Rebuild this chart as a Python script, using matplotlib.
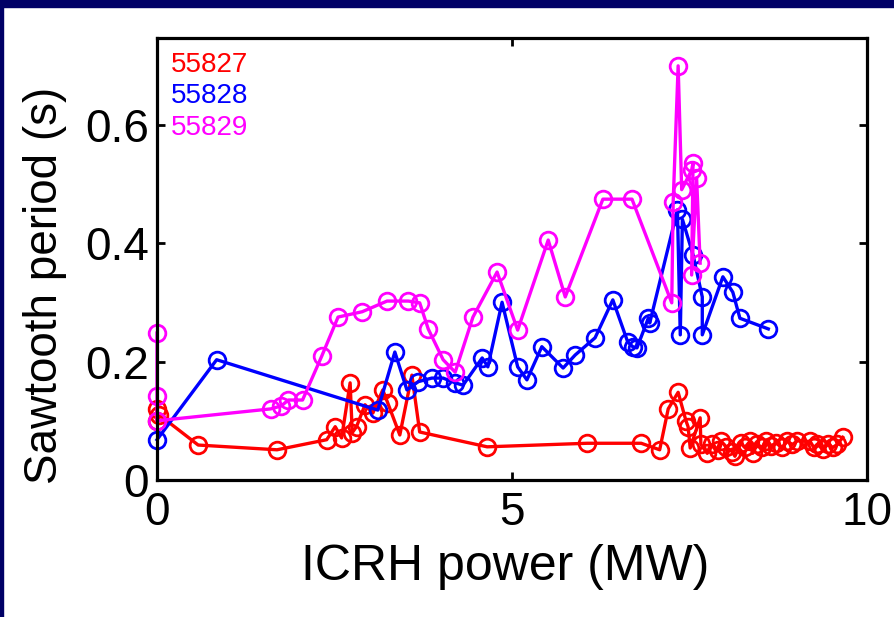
import matplotlib
matplotlib.use("Agg")
import matplotlib.pyplot as plt
from matplotlib.patches import Rectangle

plt.rcParams['font.family'] = ['Liberation Sans', 'DejaVu Sans']

# shot 55827 (red)
p27 = [0, 0, 0.03, 0.58, 1.69, 2.39, 2.51, 2.60, 2.72, 2.75, 2.81, 2.93, 3.04, 3.18,
       3.25, 3.42, 3.59, 3.70, 4.65, 6.06, 6.82, 7.08, 7.20, 7.34, 7.45, 7.48, 7.51,
       7.65, 7.66, 7.75, 7.82, 7.90, 7.95, 8.02, 8.10, 8.14, 8.22, 8.28, 8.35, 8.39,
       8.45, 8.52, 8.58, 8.65, 8.72, 8.80, 8.88, 8.95, 9.02, 9.20, 9.25, 9.30, 9.38,
       9.45, 9.52, 9.58, 9.66]
t27 = [0.12, 0.10, 0.11, 0.059, 0.051, 0.068, 0.090, 0.071, 0.164, 0.080, 0.090, 0.127,
       0.113, 0.152, 0.130, 0.076, 0.177, 0.081, 0.056, 0.062, 0.062, 0.051, 0.120,
       0.148, 0.100, 0.090, 0.054, 0.105, 0.060, 0.045, 0.060, 0.050, 0.065, 0.055,
       0.048, 0.040, 0.062, 0.055, 0.065, 0.045, 0.060, 0.055, 0.066, 0.058,
       0.062, 0.055, 0.065, 0.060, 0.066, 0.065, 0.055, 0.060, 0.052, 0.060, 0.055,
       0.060, 0.072]

# shot 55828 (blue)
p28 = [0, 0.84, 3.11, 3.35, 3.52, 3.68, 3.87, 4.03, 4.20, 4.31, 4.58, 4.66, 4.86,
       5.08, 5.21, 5.42, 5.72, 5.89, 6.17, 6.42, 6.63, 6.70, 6.76, 6.92, 6.94, 7.33,
       7.37, 7.40, 7.55, 7.68, 7.68, 7.97, 8.11, 8.21, 8.61]
t28 = [0.068, 0.203, 0.118, 0.216, 0.152, 0.166, 0.172, 0.172, 0.164, 0.160, 0.206,
       0.191, 0.300, 0.191, 0.169, 0.225, 0.189, 0.211, 0.240, 0.304, 0.233, 0.225,
       0.223, 0.273, 0.265, 0.456, 0.245, 0.440, 0.380, 0.309, 0.245, 0.343, 0.317,
       0.273, 0.255]

# shot 55829 (magenta)
p29 = [0, 0, 0, 1.60, 1.75, 1.85, 2.05, 2.32, 2.55, 2.89, 3.24, 3.54, 3.70, 3.82,
       4.03, 4.20, 4.45, 4.79, 5.08, 5.51, 5.75, 6.28, 6.69, 7.25, 7.27, 7.34, 7.39,
       7.53, 7.55, 7.53, 7.60, 7.65]
t29 = [0.248, 0.142, 0.100, 0.120, 0.125, 0.135, 0.135, 0.209, 0.275, 0.284, 0.302,
       0.302, 0.299, 0.255, 0.203, 0.182, 0.275, 0.351, 0.253, 0.405, 0.309, 0.474,
       0.474, 0.299, 0.469, 0.699, 0.490, 0.523, 0.535, 0.346, 0.510, 0.366]

shots = ['55827', '55828', '55829']
colors = ['#ff0000', '#0000ff', '#ff00ff']

fig = plt.figure(figsize=(8.95, 6.17), dpi=100)
fig.patches.append(Rectangle((0, 1 - 7 / 617), 1, 7 / 617, transform=fig.transFigure,
                             color='#000066', zorder=0))
fig.patches.append(Rectangle((0, 0), 3 / 895, 1, transform=fig.transFigure,
                             color='#000066', zorder=0))

ax = fig.add_axes([157 / 895, 137 / 617, 710 / 895, 442 / 617])
for (p, t), c in zip([(p27, t27), (p28, t28), (p29, t29)], colors):
    ax.plot(p, t, '-o', color=c, lw=2.4, ms=12, mfc='none', mew=2, clip_on=False)

ax.set_xlim(0, 10)
ax.set_ylim(0, 0.746)
ax.set_xticks([0, 5, 10])
ax.set_yticks([0, 0.2, 0.4, 0.6])
ax.set_xticklabels(['0', '5', '10'])
ax.set_yticklabels(['0', '0.2', '0.4', '0.6'])
ax.tick_params(direction='in', length=6, width=2, labelsize=33, top=True, right=True)
ax.tick_params(axis='x', pad=8)
ax.tick_params(axis='y', pad=6)
for s in ax.spines.values():
    s.set_linewidth(2.3)
ax.set_xlabel('ICRH power (MW)', fontsize=36)
ax.set_ylabel('Sawtooth period (s)', fontsize=33)
ax.xaxis.set_label_coords(0.49, -0.145)
ax.yaxis.set_label_coords(-0.127, 0.44)

for i, (name, c) in enumerate(zip(shots, colors)):
    ax.text(0.02, 0.94 - i * 0.072, name, color=c, fontsize=20,
            transform=ax.transAxes, va='center', ha='left')

fig.savefig('out.png', dpi=100)
